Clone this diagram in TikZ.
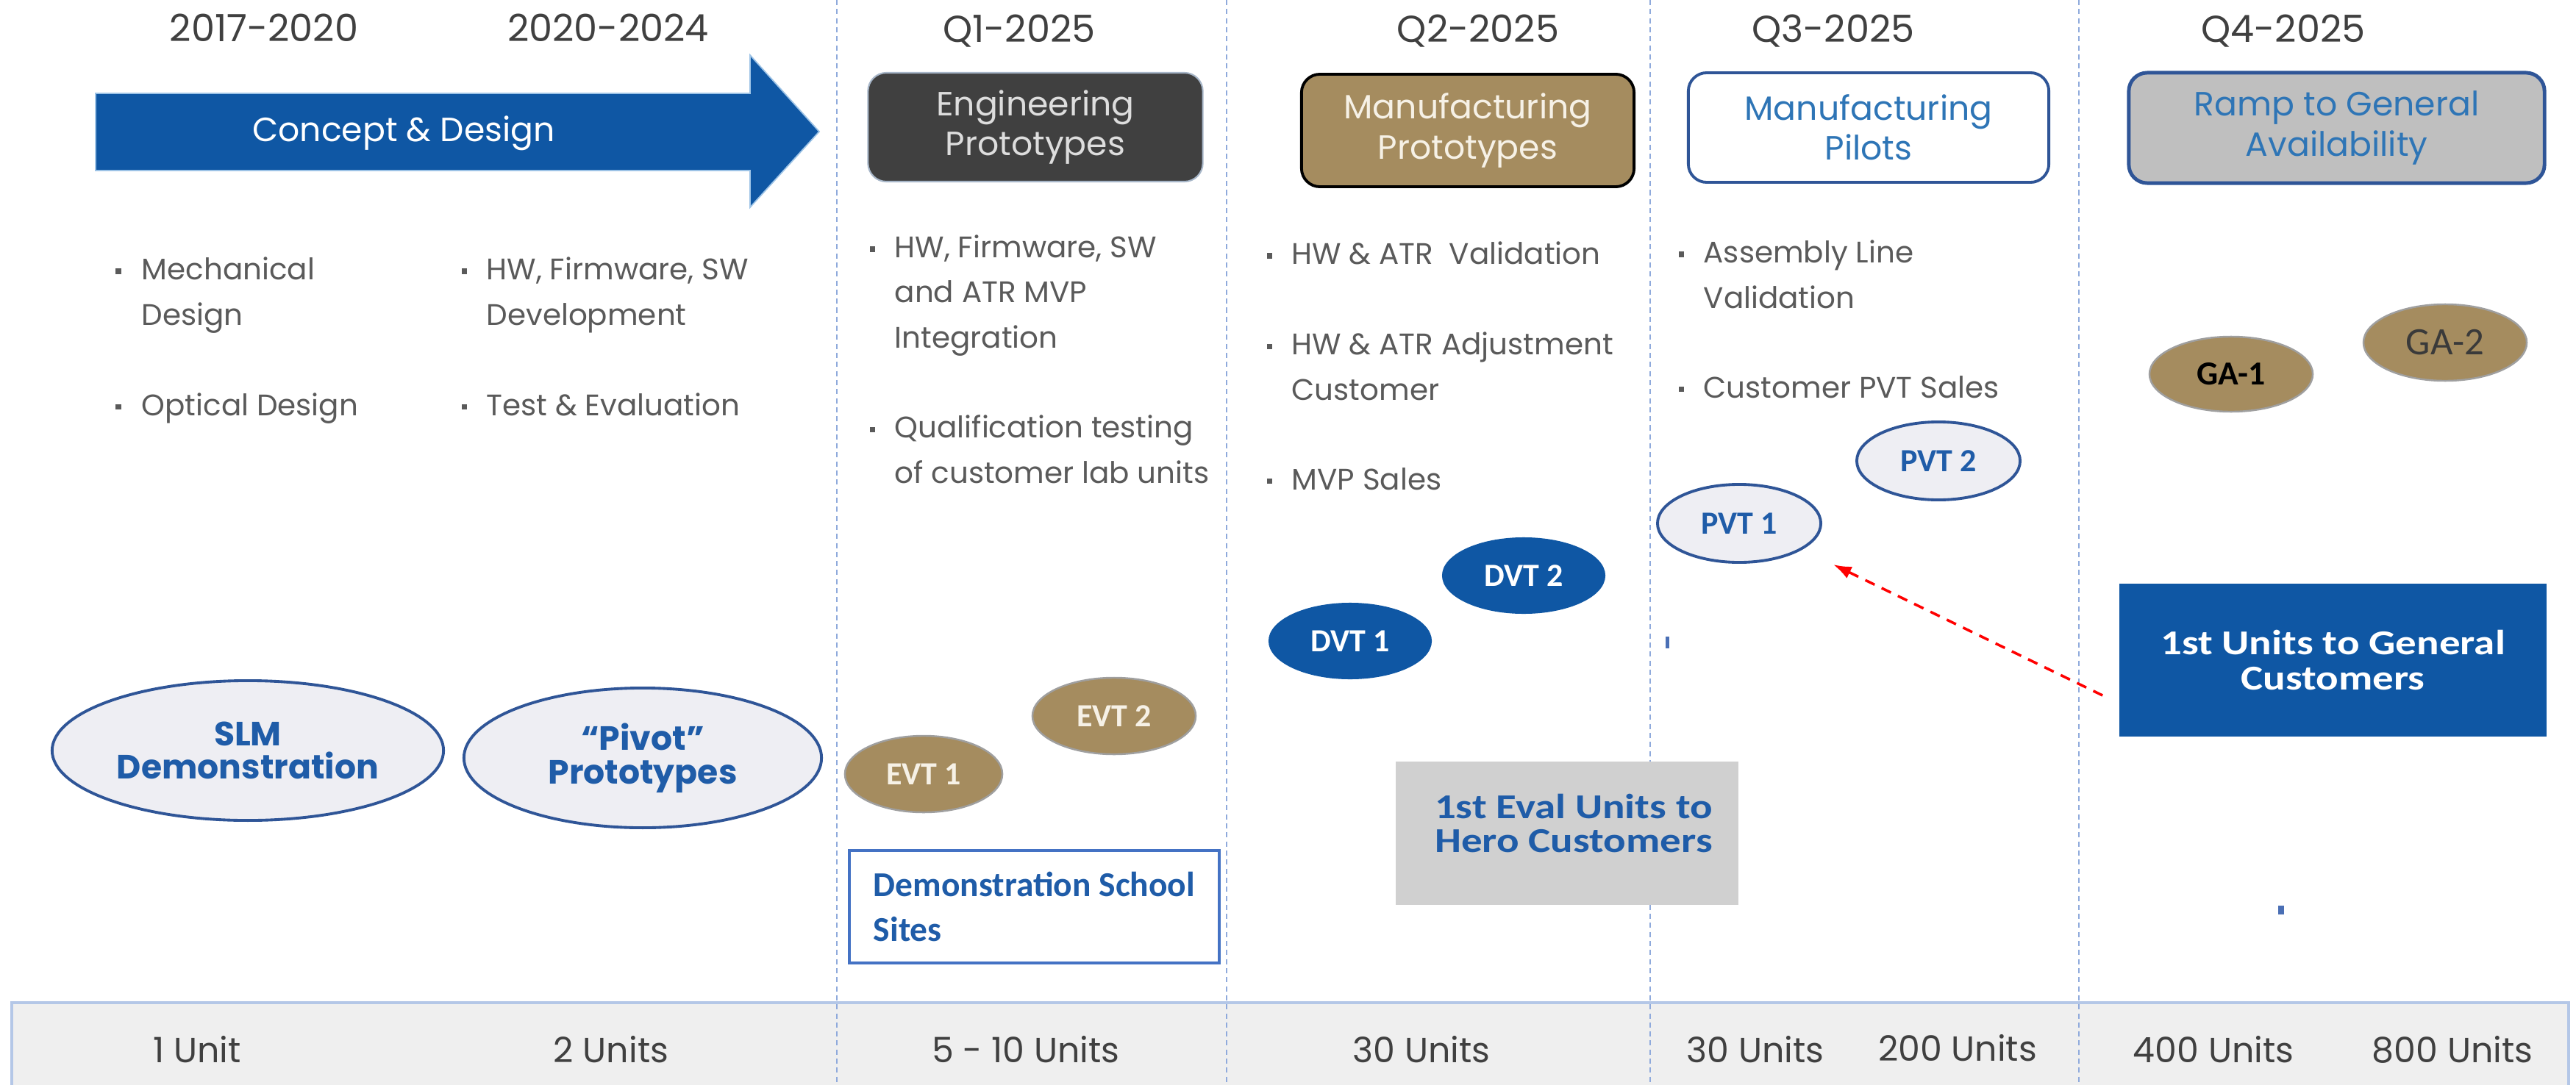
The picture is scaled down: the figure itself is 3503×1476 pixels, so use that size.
\documentclass[tikz,border=0pt]{standalone}
\usepackage{fontspec}
\setmainfont{Poppins}
\newfontfamily\calfont{Carlito}
\newfontfamily\calwide[FakeStretch=1.2]{Carlito}
\usetikzlibrary{shapes.geometric,calc,arrows.meta}
\definecolor{yeargray}{HTML}{404040}
\definecolor{bulgray}{HTML}{5A5A5A}
\definecolor{abl}{HTML}{0F57A4}
\definecolor{abledge}{HTML}{9DC3E6}
\definecolor{navy}{HTML}{2F5597}
\definecolor{tblue}{HTML}{2E75B6}
\definecolor{bblue}{HTML}{1F5CA8}
\definecolor{tanc}{HTML}{A58C5F}
\definecolor{cream}{HTML}{F6F1E6}
\definecolor{ovalfill}{HTML}{EEEEF3}
\definecolor{sepblue}{HTML}{8FAADC}
\definecolor{bandfill}{HTML}{EFEFEF}
\definecolor{bandline}{HTML}{B4C7E7}
\definecolor{herogray}{HTML}{D0D0D0}
\definecolor{enggray}{HTML}{404040}
\definecolor{engedge}{HTML}{A7B6C8}
\definecolor{engtext}{HTML}{DDDDDD}
\definecolor{rampgray}{HTML}{BFBFBF}
\definecolor{demoedge}{HTML}{4472C4}
\definecolor{markblue}{HTML}{4A6FB5}
\definecolor{ga2text}{HTML}{3A3A3A}
\begin{document}
\begin{tikzpicture}[x=0.01cm,y=-0.01cm,
  yr/.style={font=\fontsize{14.5}{17}\selectfont, text=yeargray, inner sep=0pt},
  ut/.style={font=\fontsize{13.5}{16}\selectfont, text=yeargray, inner sep=0pt},
  bt/.style={font=\fontsize{11.5}{17.4}\selectfont, text=bulgray, align=left, anchor=base west, inner sep=0pt},
  bd/.style={rectangle, fill=bulgray, inner sep=0pt, minimum size=0.07cm},
  ttl/.style={rounded corners=0.25cm, align=center, font=\fontsize{13}{15.4}\selectfont, inner sep=0pt},
  oval/.style={ellipse, inner sep=0pt, align=center},
  bigoval/.style={oval, fill=ovalfill, draw=navy, line width=1.1pt, text=bblue, font=\fontsize{13}{13}\selectfont\bfseries},
  tanoval/.style={oval, fill=tanc, draw=gray!75, line width=0.7pt, minimum width=2.22cm, minimum height=1.04cm},
  dvtoval/.style={oval, fill=abl, minimum width=2.22cm, minimum height=1.04cm, text=white, font=\calfont\bfseries\fontsize{12.5}{14}\selectfont},
  pvtoval/.style={oval, fill=ovalfill, draw=navy, line width=1.1pt, minimum width=2.22cm, minimum height=1.06cm, text=bblue, font=\calfont\bfseries\fontsize{12.5}{14}\selectfont},
  sep/.style={draw=sepblue, line width=0.6pt, dash pattern=on 2pt off 1.5pt}
]
\useasboundingbox (0,0) rectangle (3503,1476);
\fill[white] (0,0) rectangle (3503,1476);
\clip (0,0) rectangle (3503,1476);

% bottom band
\draw[fill=bandfill, draw=bandline, line width=0.9pt] (16,1364) rectangle (3493,1495);

% column separators
\foreach \x in {1138,1668,2244,2827} \draw[sep] (\x,0) -- (\x,1476);

% years
\node[yr] (y1) at (359,38) {2017-2020};
\node[yr] (y2) at (827,38) {2020-2024};
\node[yr] (y3) at (1386,42) {Q1-2025};
\node[yr] (y4) at (2010,42) {Q2-2025};
\node[yr] (y5) at (2493,42) {Q3-2025};
\node[yr] (y6) at (3105,42) {Q4-2025};

% concept arrow
\filldraw[fill=abl, draw=abledge, line width=0.5pt] (130,127) -- (1020,127) -- (1020,75) -- (1114,179) -- (1020,282) -- (1020,232) -- (130,232) -- cycle;
\node[font=\fontsize{13}{15}\selectfont, text=white, inner sep=0pt] (cd) at (549,181) {Concept \& Design};

% phase boxes
\node[ttl, fill=enggray, draw=engedge, line width=0.6pt, text=engtext, minimum width=4.55cm, minimum height=1.48cm] (eng) at (1408,173) {Engineering\\Prototypes};
\node[ttl, fill=tanc, draw=black, line width=1.1pt, text=cream, minimum width=4.52cm, minimum height=1.53cm] (mfg) at (1996,177.5) {Manufacturing\\Prototypes};
\node[ttl, fill=white, draw=navy, line width=1.1pt, text=tblue, minimum width=4.9cm, minimum height=1.49cm] (pil) at (2541,173.5) {Manufacturing\\Pilots};
\node[ttl, fill=rampgray, draw=navy, line width=1.4pt, text=tblue, minimum width=5.65cm, minimum height=1.5cm] (ramp) at (3177.5,174) {Ramp to General\\Availability};

% bullets column 1 (text nodes anchored at the baseline of their last line)
\node[bd] (d1a) at (161,369) {};
\node[bt] (t1a) at (192,442) {Mechanical\\Design};
\node[bd] (d1b) at (161,553) {};
\node[bt] (t1b) at (192,565) {Optical Design};
% column 2
\node[bd] (d2a) at (631,369) {};
\node[bt] (t2a) at (661,442) {HW, Firmware, SW\\Development};
\node[bd] (d2b) at (631,553) {};
\node[bt] (t2b) at (661,565) {Test \& Evaluation};
% Q1
\node[bd] (d3a) at (1186,339) {};
\node[bt] (t3a) at (1216,473) {HW, Firmware, SW\\and ATR MVP\\Integration};
\node[bd] (d3b) at (1186,584) {};
\node[bt] (t3b) at (1216,657) {Qualification testing\\of customer lab units};
% Q2
\node[bd] (d4a) at (1726,348) {};
\node[bt] (t4a) at (1756,360) {HW \& ATR\ \ Validation};
\node[bd] (d4b) at (1726,471) {};
\node[bt] (t4b) at (1756,544) {HW \& ATR Adjustment\\Customer};
\node[bd] (d4c) at (1726,654) {};
\node[bt] (t4c) at (1756,666) {MVP Sales};
% Q3
\node[bd] (d5a) at (2286,346) {};
\node[bt] (t5a) at (2316,419) {Assembly Line\\Validation};
\node[bd] (d5b) at (2286,529) {};
\node[bt] (t5b) at (2316,541) {Customer PVT Sales};

% milestone ovals
\node[bigoval, minimum width=5.32cm, minimum height=1.9cm] (slm) at (337,1021) {SLM\\Demonstration};
\node[bigoval, minimum width=4.86cm, minimum height=1.9cm] (piv) at (874,1031) {“Pivot”\\Prototypes};
\node[tanoval, minimum width=2.14cm, text=cream, font=\calfont\bfseries\fontsize{12.5}{14}\selectfont] (evt1) at (1256,1053) {EVT 1};
\node[tanoval, text=cream, font=\calfont\bfseries\fontsize{12.5}{14}\selectfont] (evt2) at (1515,974) {EVT 2};
\node[dvtoval] (dvt1) at (1836,872) {DVT 1};
\node[dvtoval] (dvt2) at (2072,783) {DVT 2};
\node[pvtoval] (pvt1) at (2365,712) {PVT 1};
\node[pvtoval] (pvt2) at (2636,627) {PVT 2};
\node[tanoval, minimum height=1.02cm, text=black, font=\calfont\bfseries\fontsize{13}{15}\selectfont] (ga1) at (3034,509) {GA-1};
\node[tanoval, text=ga2text, font=\calfont\fontsize{15}{17}\selectfont] (ga2) at (3325,466) {GA-2};

% boxes
\node[draw=demoedge, fill=white, line width=1.2pt, minimum width=5.03cm, minimum height=1.53cm, align=left, inner sep=0pt, text=bblue, font=\calfont\bfseries\fontsize{13.5}{17.4}\selectfont] (demo) at (1406.5,1233.5) {Demonstration School\\Sites};
\node[fill=herogray, minimum width=4.66cm, minimum height=1.95cm, inner sep=0pt] (hero) at (2131,1133.5) {};
\node[align=center, inner sep=0pt, text=bblue, font=\calwide\bfseries\fontsize{13.5}{13}\selectfont] (herot) at (2140,1120) {1st Eval Units to\\Hero Customers};
\node[fill=abl, minimum width=5.81cm, minimum height=2.08cm, align=center, inner sep=0pt, text=white, font=\calwide\bfseries\fontsize{13.5}{13.4}\selectfont] (gen) at (3172.5,898) {1st Units to General\\Customers};

% red dashed pointer
\draw[red, line width=1pt, dash pattern=on 4pt off 3pt, -{Latex[length=7pt,width=5pt]}] ($(gen.west)+(-22,48)$) -- ($(pvt1.center)+(128,56)$);

% small marks
\fill[markblue] (2265,866) rectangle (2270,882);
\fill[markblue] (3098,1232) rectangle (3106,1244);

% units
\node[ut] (u1) at (268,1428) {1 Unit};
\node[ut] (u2) at (831,1428) {2 Units};
\node[ut] (u3) at (1395,1428) {5 - 10 Units};
\node[ut] (u4) at (1933,1428) {30 Units};
\node[ut] (u5) at (2387,1428) {30 Units};
\node[ut] (u6) at (2662,1426) {200 Units};
\node[ut] (u7) at (3010,1428) {400 Units};
\node[ut] (u8) at (3335,1428) {800 Units};
\end{tikzpicture}
\end{document}
